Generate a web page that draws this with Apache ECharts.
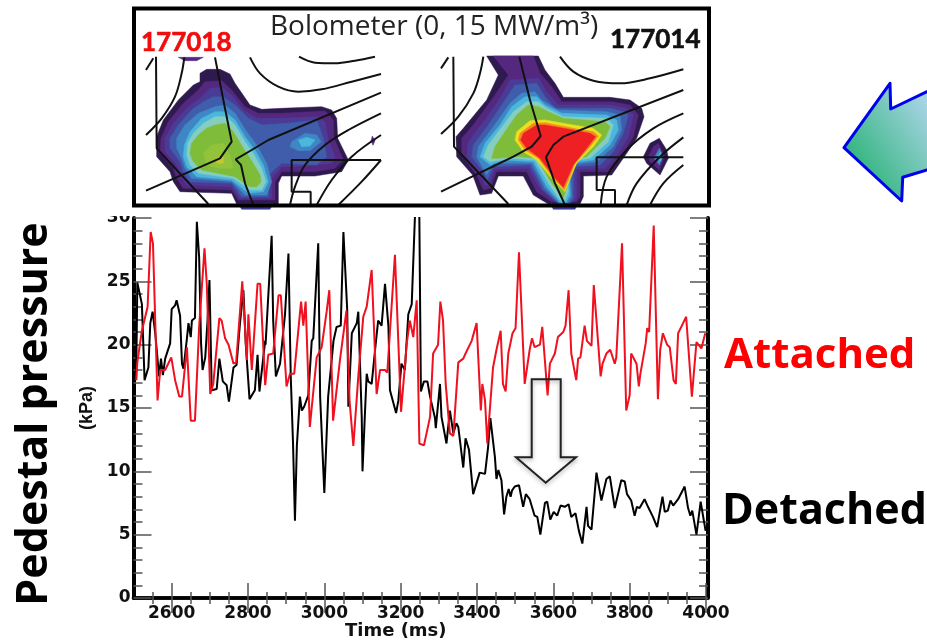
<!DOCTYPE html>
<html><head><meta charset="utf-8">
<style>html,body{margin:0;padding:0;background:#fff}#c{width:927px;height:641px}</style>
<script src="https://cdn.jsdelivr.net/npm/echarts@6/dist/echarts.min.js"></script>
</head><body><div id="c"></div>
<script>
const blackTime=[2507,2510,2522,2529,2539,2544,2550,2557,2561,2567,2572,2577,2583,2596,2600,2609,2613,2622,2627,2631,2640,2644,2650,2653,2661,2666,2672,2677,2681,2688,2694,2699,2705,2718,2725,2734,2744,2750,2762,2770,2779,2788,2794,2804,2818,2825,2830,2845,2846,2862,2866,2873,2884,2897,2906,2912,2918,2923,2928,2936,2941,2947,2958,2967,2971,2984,2989,3000,3010,3024,3032,3043,3050,3060,3063,3072,3085,3089,3098,3100,3106,3111,3115,3124,3133,3141,3150,3159,3168,3172,3188,3194,3202,3211,3220,3229,3237,3242,3248,3249,3253,3261,3270,3277,3290,3292,3303,3307,3320,3329,3338,3346,3351,3364,3370,3379,3390,3407,3421,3429,3435,3447,3451,3456,3464,3471,3477,3483,3488,3492,3499,3510,3521,3528,3538,3551,3558,3566,3578,3584,3592,3601,3610,3619,3630,3640,3647,3658,3667,3676,3687,3691,3700,3713,3726,3739,3748,3761,3778,3787,3793,3804,3813,3819,3826,3839,3848,3861,3872,3886,3892,3900,3907,3914,3927,3944,3953,3959,3964,3975,3986,3999];
const blackKpa=[17.2,24.9,23.2,17.2,18.2,21.7,22.6,20.9,21.0,17.5,18.9,17.6,18.9,20.1,22.8,23.1,23.5,22.3,18.5,18.1,20.5,21.7,20.6,21.9,22.1,29.7,26.9,20.1,18.0,19.0,21.9,25.1,16.4,16.5,18.9,17.1,16.8,15.5,18.2,18.4,21.7,24.3,20.1,15.7,16.4,19.2,16.3,20.3,20.0,28.6,21.9,17.5,18.5,22.4,27.2,17.5,12.2,6.1,12.0,15.9,14.8,15.1,16.0,20.3,20.5,28.0,15.9,8.3,15.9,20.3,21.4,21.5,28.9,22.7,15.1,20.9,21.7,22.6,14.3,10.0,14.3,17.7,17.1,16.9,19.6,21.9,21.5,24.8,21.4,16.4,14.6,15.6,18.5,18.0,22.4,23.2,29.8,33.2,33.2,29.8,16.3,17.1,17.1,15.9,14.2,13.4,16.9,14.3,12.2,14.8,13.0,13.8,13.5,10.3,12.6,11.7,8.2,9.9,9.8,11.9,14.2,11.1,9.4,10.1,9.3,6.6,8.0,8.6,8.0,8.5,8.8,8.9,7.2,8.2,7.8,6.5,6.4,5.0,7.5,7.6,6.2,6.8,6.5,7.3,7.2,7.4,6.4,6.7,5.3,4.3,7.2,5.7,5.4,9.9,7.7,9.4,9.6,7.1,9.3,9.2,8.2,7.7,6.5,7.2,7.1,7.8,7.2,6.4,5.6,8.0,6.8,6.9,7.7,7.3,7.8,8.8,7.1,6.5,6.9,5.0,7.6,5.3];
const redTime=[2507,2510,2522,2537,2545,2551,2563,2570,2583,2599,2609,2620,2627,2640,2650,2661,2672,2686,2692,2701,2709,2725,2731,2740,2749,2762,2769,2785,2797,2801,2810,2825,2832,2845,2853,2866,2880,2886,2901,2910,2921,2939,2945,2951,2962,2980,2993,3006,3013,3023,3041,3058,3066,3076,3089,3102,3111,3124,3137,3146,3159,3165,3185,3201,3216,3224,3233,3242,3249,3261,3277,3285,3298,3304,3311,3318,3329,3338,3351,3364,3370,3386,3399,3410,3414,3421,3427,3442,3451,3462,3468,3475,3482,3493,3501,3510,3525,3538,3544,3551,3565,3571,3585,3591,3604,3612,3626,3632,3640,3647,3660,3665,3671,3682,3688,3700,3706,3711,3724,3729,3739,3749,3761,3765,3780,3791,3800,3804,3818,3824,3828,3842,3846,3851,3863,3874,3880,3887,3898,3905,3915,3921,3927,3940,3948,3963,3975,3988,3998];
const redKpa=[17.2,18.6,21.1,23.0,28.9,28.0,15.6,18.0,18.0,19.0,17.2,15.9,15.9,19.8,14.0,14.0,21.4,27.6,24.8,16.1,16.9,22.1,21.9,20.5,20.0,18.5,18.6,25.0,18.8,22.4,18.0,24.8,24.8,16.8,19.2,19.3,23.9,23.9,16.7,17.7,17.7,23.4,21.5,23.4,13.5,19.0,19.8,22.6,24.3,14.0,18.8,22.7,15.6,12.0,17.5,22.2,23.0,25.9,16.1,18.0,18.0,17.8,27.1,14.7,20.1,21.9,20.6,23.5,12.2,12.05,14.3,19.3,20.0,23.4,21.9,16.9,13.0,12.8,18.6,18.9,19.3,20.3,21.7,14.8,16.9,15.6,12.2,18.2,19.6,21.1,16.9,16.3,19.3,20.9,21.3,27.3,16.9,19.6,20.5,19.8,20.0,21.4,16.0,18.5,19.3,20.6,21.0,21.5,24.3,19.3,17.2,18.9,19.0,21.5,20.3,19.9,24.7,24.8,17.5,18.5,19.3,19.6,18.5,19.0,28.0,14.8,16.0,19.3,18.5,16.7,17.7,20.1,21.3,21.0,29.4,15.7,19.6,20.9,20.0,19.8,17.2,16.9,20.9,21.7,22.2,15.9,20.2,19.7,20.9];
const xMajorTicks=[2600,2800,3000,3200,3400,3600,3800,4000];
const xMinorTicks=[2550,2650,2700,2750,2850,2900,2950,3050,3100,3150,3250,3300,3350,3450,3500,3550,3650,3700,3750,3850,3900,3950];

const ringColors=['#2f1a50','#55287f','#4a3c96','#3f5dab','#3f86c4','#4bb7dd','#84cdbf','#7fbc3a','#93c33a','#c4c92f'];
const leftRings=[
[[195,70],[215,58],[255,58],[285,72],[300,100],[345,165],[380,178],[440,175],[560,170],[590,180],[605,205],[608,265],[640,330],[620,365],[540,378],[440,378],[430,400],[430,462],[305,462],[290,430],[135,425],[115,395],[105,365],[65,320],[65,260],[85,210],[130,150],[175,105],[195,95]],
[[210,95],[260,92],[290,120],[330,170],[370,190],[440,190],[570,183],[595,210],[597,265],[625,330],[600,355],[540,365],[440,365],[420,395],[420,450],[310,450],[290,420],[145,415],[125,385],[115,355],[75,310],[78,265],[100,215],[145,160],[190,120]],
[[225,115],[260,112],[290,135],[325,180],[365,205],[440,205],[545,200],[570,215],[580,270],[600,320],[590,340],[480,350],[440,350],[410,385],[410,445],[315,445],[290,410],[155,405],[135,375],[125,345],[90,305],[90,265],[115,220],[155,175],[200,140]],
[[235,140],[265,140],[300,165],[340,205],[380,225],[460,220],[545,210],[565,265],[575,320],[545,345],[440,340],[400,375],[400,440],[320,440],[290,400],[165,395],[145,365],[135,335],[105,295],[105,265],[130,225],[170,180],[205,155]],
[[240,170],[270,165],[300,190],[335,245],[365,285],[395,340],[410,395],[395,435],[330,435],[290,395],[170,385],[150,355],[140,325],[125,295],[125,265],[150,225],[190,190]],
[[240,185],[270,185],[300,210],[330,260],[360,300],[385,345],[400,395],[385,425],[340,430],[290,390],[185,380],[155,350],[145,320],[148,285],[165,245],[200,205]],
[[240,200],[275,200],[300,225],[330,275],[355,310],[380,355],[393,395],[380,420],[345,420],[295,385],[190,370],[165,345],[155,315],[158,280],[175,250],[205,220]],
[[240,225],[270,220],[295,245],[325,295],[345,325],[375,375],[378,395],[365,410],[345,410],[300,380],[200,360],[175,335],[165,310],[170,280],[190,255],[215,235]],
[[230,285],[265,280],[285,315],[295,355],[250,355],[215,345],[205,310]],
[[245,325],[265,320],[265,340],[245,340]]
];
const leftSpots=[
{c:'#3f86c4',p:[[470,275],[510,250],[545,255],[558,275],[525,302],[490,302],[465,290]]},
{c:'#4bb7dd',p:[[490,270],[515,262],[540,270],[525,288],[500,290]]},
{c:'#55287f',p:[[130,22],[205,22],[185,32],[150,32]]},
{c:'#55287f',p:[[712,258],[720,272],[714,286],[708,272]]},
{c:'#3a3a98',p:[[310,460],[415,460],[405,478],[320,478]]}
];
const rightColors=['#2f1a50','#55287f','#4a3c96','#3f5dab','#3f86c4','#4bb7dd','#84cdbf','#7fbc3a','#ecdf1f','#f58a20','#ee2024'];
const rightRings=[
[[170,18],[325,18],[345,60],[375,100],[400,142],[540,142],[600,150],[635,175],[642,200],[620,265],[590,310],[545,375],[460,378],[460,440],[450,462],[355,462],[310,435],[280,378],[205,378],[185,430],[150,435],[128,375],[80,320],[78,260],[100,235],[170,150],[205,75]],
[[190,18],[310,18],[330,70],[365,110],[395,155],[545,155],[600,165],[625,195],[610,260],[575,315],[535,365],[450,365],[450,440],[440,455],[365,455],[320,425],[290,365],[200,365],[180,415],[160,420],[140,375],[95,315],[95,265],[130,225],[195,135],[235,75]],
[[240,90],[325,85],[350,125],[385,165],[540,165],[590,175],[610,195],[595,260],[565,310],[525,355],[440,358],[440,440],[430,455],[375,455],[330,415],[295,355],[195,358],[175,405],[165,405],[150,370],[110,320],[115,275],[165,210],[210,145]],
[[255,105],[320,100],[345,140],[375,175],[540,175],[580,185],[595,195],[580,250],[550,305],[510,345],[430,350],[430,445],[420,460],[385,460],[340,420],[300,345],[190,350],[172,390],[160,365],[125,320],[130,285],[175,225],[225,150]],
[[275,130],[315,125],[335,150],[385,180],[530,185],[570,195],[575,240],[550,290],[500,335],[420,345],[425,440],[410,462],[390,462],[345,415],[305,340],[190,340],[170,375],[140,320],[145,290],[190,230],[240,160]],
[[285,140],[320,140],[345,165],[395,190],[530,195],[560,210],[565,240],[540,285],[490,330],[415,340],[420,435],[405,462],[395,462],[350,410],[310,335],[220,330],[180,345],[150,320],[165,280],[210,225],[245,170]],
[[290,155],[325,155],[350,175],[400,200],[530,205],[550,225],[535,275],[480,325],[410,335],[415,425],[402,455],[390,450],[355,400],[315,330],[250,325],[180,335],[160,320],[175,285],[220,225],[250,185]],
[[295,165],[325,170],[355,185],[400,205],[525,215],[540,230],[525,265],[470,320],[405,330],[412,410],[400,445],[360,392],[320,325],[265,320],[200,325],[185,325],[195,290],[225,245],[260,195]],
[[300,212],[345,210],[430,225],[490,235],[515,255],[490,290],[440,340],[405,425],[365,385],[320,330],[280,305],[255,270],[260,245]],
[[310,220],[345,218],[430,235],[490,245],[505,258],[480,290],[435,340],[403,420],[370,385],[325,325],[285,300],[265,270],[270,250]],
[[320,225],[345,225],[430,240],[480,250],[497,260],[470,295],[430,345],[400,412],[375,385],[330,325],[290,295],[272,270],[280,250]]
];
const rightSpots=[
{c:'#2f1a50',p:[[688,265],[710,300],[715,325],[690,375],[650,340],[640,320],[660,280]]},
{c:'#55287f',p:[[685,280],[703,320],[688,360],[660,335],[655,320],[670,290]]},
{c:'#3f86c4',p:[[688,295],[698,320],[688,345],[672,325]]},
{c:'#4bb7dd',p:[[692,305],[697,322],[690,335],[683,322]]},
{c:'#3a3a98',p:[[360,460],[445,460],[435,478],[370,478]]}
];
const leftCurves=[
[[33,60],[55,25]],
[[33,255],[80,205],[120,140],[140,70],[148,22]],
[[345,22],[375,70],[430,110],[490,125],[560,118],[650,95],[738,72]],
[[492,20],[540,38],[600,40],[660,32],[720,20]],
[[738,190],[640,240],[570,285],[510,345],[480,410],[465,465]],
[[738,255],[650,320],[590,390],[545,465]],
[[738,330],[680,395],[610,465]]
];
const leftEdges=[
[[63,20],[65,295],[220,462]],
[[240,22],[265,150],[290,275],[255,325],[33,422]],
[[738,128],[400,270],[350,300],[302,328],[318,345],[330,400],[355,465]],
[[738,330],[470,330],[470,425],[527,425],[527,465]]
];
const rightCurves=[
[[33,55],[55,22]],
[[33,252],[85,200],[130,130],[150,70],[160,20]],
[[390,20],[430,65],[490,92],[570,100],[660,85],[760,58]],
[[760,190],[670,235],[590,300],[530,380],[512,465]],
[[760,262],[690,320],[620,400],[590,465]],
[[760,345],[700,400],[660,465]]
];
const rightEdges=[
[[70,20],[72,290],[235,462]],
[[268,20],[300,150],[332,258],[305,290],[250,320],[33,425]],
[[760,120],[400,260],[370,285],[348,322],[375,400],[405,465]],
[[760,322],[500,322],[500,420],[555,420],[555,465]]
];

const zip=(a,b)=>a.map((v,i)=>[v,b[i]]);
const AX='DejaVu Sans', TXT='Open Sans';
const hiddenX=(g,max)=>({gridIndex:g,type:'value',min:0,max:max,show:false});
const hiddenY=(g)=>({gridIndex:g,type:'value',min:0,max:480,inverse:true,show:false});

function polySeries(rings,colors,spots,ax){
  const all=rings.map((p,i)=>({c:colors[i],p:p})).concat(spots);
  return {type:'custom',xAxisIndex:ax,yAxisIndex:ax,clip:true,silent:true,z:1,
    data:all.map((_,i)=>[i]),
    encode:{x:[],y:[]},
    renderItem:function(params,api){
      const s=all[api.value(0)];
      return {type:'polygon',shape:{points:s.p.map(q=>api.coord(q))},style:{fill:s.c,stroke:s.c,lineWidth:0.5}};
    }};
}
function fluxSeries(list,smooth,ax){
  return list.map(d=>({type:'line',xAxisIndex:ax,yAxisIndex:ax,data:d,symbol:'none',smooth:smooth,z:3,silent:true,
    lineStyle:{color:'#111',width:2}}));
}
const majorTick={show:true,inside:true,length:15,lineStyle:{color:'#555',width:1.5}};
const minorTick={show:true,inside:true,length:6,lineStyle:{color:'#555',width:1.5}};
const yTick={show:true,inside:true,length:18,lineStyle:{color:'#555',width:1.5}};
const yMinor={show:true,splitNumber:5,length:9,lineStyle:{color:'#555',width:1.5}};
const gridBase={outerBoundsMode:'none',containLabel:false};

const option={
  animation:false,
  backgroundColor:'#fff',
  grid:[
    Object.assign({left:133.5,top:218,width:572.5,height:380},gridBase),
    Object.assign({left:133.5,top:218,width:572.5,height:380},gridBase),
    Object.assign({left:135,top:50,width:260,height:160},gridBase),
    Object.assign({left:430,top:50,width:270,height:160},gridBase)
  ],
  xAxis:[
    {gridIndex:0,type:'value',position:'bottom',min:2500,max:4000,name:'Time (ms)',nameLocation:'middle',nameGap:33,nameMoveOverlap:false,
     nameTextStyle:{fontFamily:AX,fontWeight:'bold',fontSize:18,color:'#111',verticalAlign:'middle',padding:[0,48,0,0]},
     axisLine:{show:true,lineStyle:{color:'#000',width:3.5}},axisTick:Object.assign({customValues:xMajorTicks},majorTick),
     axisLabel:{customValues:xMajorTicks,fontFamily:AX,fontWeight:'bold',fontSize:17,color:'#111',margin:7,formatter:v=>String(v)},splitLine:{show:false}},
    {gridIndex:0,type:'value',position:'top',min:2500,max:4000,
     axisLine:{show:true,lineStyle:{color:'#000',width:3.5}},axisTick:Object.assign({customValues:xMajorTicks},majorTick),
     axisLabel:{show:false},splitLine:{show:false}},
    {gridIndex:1,type:'value',position:'bottom',min:2500,max:4000,
     axisLine:{show:false},axisTick:Object.assign({customValues:xMinorTicks},minorTick),axisLabel:{show:false},splitLine:{show:false}},
    {gridIndex:1,type:'value',position:'top',min:2500,max:4000,
     axisLine:{show:false},axisTick:Object.assign({customValues:xMinorTicks},minorTick),axisLabel:{show:false},splitLine:{show:false}},
    hiddenX(2,780),hiddenX(3,810)
  ],
  yAxis:[
    {gridIndex:0,type:'value',position:'left',min:0,max:30,interval:5,name:'(kPa)',nameLocation:'middle',nameGap:37,nameMoveOverlap:false,
     nameTextStyle:{fontFamily:'Liberation Sans',fontWeight:'bold',fontSize:18,color:'#111'},
     axisLine:{show:true,lineStyle:{color:'#000',width:4}},axisTick:yTick,minorTick:yMinor,
     axisLabel:{fontFamily:AX,fontWeight:'bold',fontSize:17,color:'#111',margin:3,hideOverlap:false},splitLine:{show:false},minorSplitLine:{show:false}},
    {gridIndex:0,type:'value',position:'right',offset:2,min:0,max:30,interval:5,
     axisLine:{show:true,lineStyle:{color:'#000',width:4}},axisTick:yTick,minorTick:yMinor,
     axisLabel:{show:false},splitLine:{show:false},minorSplitLine:{show:false}},
    {gridIndex:1,type:'value',min:0,max:30,show:false},
    {gridIndex:1,type:'value',min:0,max:30,position:'right',show:false},
    hiddenY(2),hiddenY(3)
  ],
  series:[
    {name:'177014',type:'line',xAxisIndex:0,yAxisIndex:0,data:zip(blackTime,blackKpa),symbol:'none',clip:true,z:5,
     lineStyle:{color:'#000',width:2}},
    {name:'177018',type:'line',xAxisIndex:0,yAxisIndex:0,data:zip(redTime,redKpa),symbol:'none',clip:true,z:6,
     lineStyle:{color:'#f0101e',width:2}},
    polySeries(leftRings,ringColors,leftSpots,4),
    polySeries(rightRings,rightColors,rightSpots,5)
  ].concat(fluxSeries(leftCurves,0.35,4),fluxSeries(leftEdges,false,4),fluxSeries(rightCurves,0.35,5),fluxSeries(rightEdges,false,5)),
  graphic:[
    {type:'rect',z:50,shape:{x:100,y:207,width:32,height:9},style:{fill:'#fff'}},
    {type:'rect',z:60,shape:{x:134,y:8.5,width:575,height:197},style:{fill:'none',stroke:'#000',lineWidth:4}},
    {type:'polygon',z:60,shape:{points:[[844,147.7],[890,83.3],[890.7,109],[927,91.7],[965,72],[965,160],[927,170],[902.7,177.3],[901.7,201]]},
     style:{stroke:'#0000ee',lineWidth:3,lineJoin:'round',
       fill:{type:'linear',x:0.08,y:0.72,x2:0.72,y2:0.32,colorStops:[{offset:0,color:'#2fb57c'},{offset:1,color:'#a5d3e2'}]}}},
    {type:'polygon',z:60,shape:{points:[[531.7,379.3],[560.7,379.3],[560.7,457.3],[576,457.3],[545.7,482.7],[516,457.3],[531.7,457.3]]},
     style:{fill:'none',stroke:'#222',lineWidth:2,shadowBlur:4,shadowColor:'rgba(0,0,0,0.35)',shadowOffsetY:2}},
    {type:'text',z:70,x:270,y:27,style:{text:'Bolometer (0, 15 MW/m³)',fontFamily:TXT,fontSize:28,fill:'#222',verticalAlign:'middle'}},
    {type:'text',z:70,x:141,y:43,style:{text:'177018',fontFamily:'Lato',fontWeight:'bold',fontSize:26,fill:'#f20d0d',stroke:'#f20d0d',lineWidth:0.6,verticalAlign:'middle'}},
    {type:'text',z:70,x:610,y:40,style:{text:'177014',fontFamily:'Lato',fontWeight:'bold',fontSize:26,fill:'#111',stroke:'#111',lineWidth:0.6,verticalAlign:'middle'}},
    {type:'text',z:70,x:724,y:356,style:{text:'Attached',fontFamily:TXT,fontWeight:'bold',fontSize:42,fill:'#ff0000',verticalAlign:'middle'}},
    {type:'text',z:70,x:722,y:512,style:{text:'Detached',fontFamily:TXT,fontWeight:'bold',fontSize:43,fill:'#000',verticalAlign:'middle'}},
    {type:'text',z:70,x:35,y:414,rotation:Math.PI/2,style:{text:'Pedestal pressure',fontFamily:TXT,fontWeight:'bold',fontSize:43,fill:'#000',align:'center',verticalAlign:'middle'}}
  ]
};
echarts.init(document.getElementById('c'),null,{renderer:'canvas'}).setOption(option);
</script></body></html>
